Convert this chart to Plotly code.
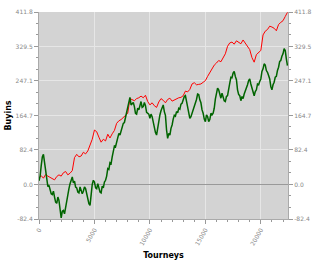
import plotly.graph_objects as go

# Buyins won over tourneys
red_step = 200
red_ev = [16, 21, 15, 24, 20, 17, 14, 11, 19, 23,
          20, 28, 31, 23, 27, 33, 64, 72, 66, 68,
          77, 73, 80, 92, 108, 130, 126, 113, 101, 108,
          104, 120, 111, 121, 129, 146, 152, 155, 160, 163,
          170, 205, 203, 200, 205, 207, 211, 207, 213, 198,
          190, 195, 188, 184, 197, 205, 201, 195, 203, 206,
          199, 202, 204, 207, 208, 212, 223, 221, 227, 240,
          243, 238, 239, 240, 244, 248, 258, 268, 276, 285,
          290, 296, 293, 304, 312, 330, 338, 340, 335, 343,
          339, 336, 345, 338, 331, 322, 303, 292, 310, 314,
          320, 357, 366, 370, 378, 376, 373, 367, 382, 387,
          391, 401, 411]

green_step = 100
green_won = [9, 20, 45, 66, 72, 50, 40, 12, -5, -2,
             -12, -22, -24, -16, -30, -42, -45, -30, -38, -62,
             -80, -64, -62, -70, -52, -44, -25, -10, 2, 14,
             18, 4, 8, -6, -8, -18, -20, -6, -12, -22,
             -16, -6, -10, -24, -30, -46, -50, -22, 0, 10,
             6, -8, -10, 2, -8, -18, -20, -4, -8, 6,
             10, 20, 38, 36, 52, 50, 66, 84, 92, 90,
             100, 116, 122, 118, 128, 142, 146, 148, 160, 178,
             185, 202, 208, 190, 192, 196, 186, 170, 168, 182,
             178, 192, 198, 184, 186, 196, 188, 172, 170, 168,
             158, 168, 162, 146, 140, 124, 118, 136, 145, 166,
             176, 182, 190, 174, 165, 130, 110, 122, 118, 134,
             142, 156, 165, 163, 174, 171, 182, 180, 192, 194,
             204, 210, 212, 196, 186, 168, 158, 162, 170, 174,
             185, 192, 203, 216, 215, 202, 195, 178, 170, 156,
             150, 166, 162, 150, 155, 170, 166, 170, 182, 204,
             215, 230, 226, 212, 206, 218, 210, 200, 198, 210,
             212, 232, 242, 256, 255, 266, 270, 258, 250, 226,
             215, 212, 200, 210, 205, 216, 222, 230, 238, 248,
             252, 240, 230, 220, 212, 222, 226, 240, 238, 246,
             252, 270, 276, 288, 285, 272, 268, 260, 252, 234,
             226, 238, 244, 256, 258, 272, 280, 294, 296, 306,
             312, 324, 320, 300, 284]

red_x = list(range(0, red_step * len(red_ev), red_step))
green_x = list(range(0, green_step * len(green_won), green_step))

y_ticks = [-82.4, 0.0, 82.4, 164.7, 247.1, 329.5, 411.8]
y_labels = ["-82.4", "0.0", "82.4", "164.7", "247.1", "329.5", "411.8"]
x_ticks = [0, 5000, 10000, 15000, 20000]
x_labels = ["0", "5000", "10000", "15000", "20000"]

fig = go.Figure()
fig.add_trace(go.Scatter(x=red_x, y=red_ev, mode="lines",
                         line=dict(color="#ff0000", width=1), showlegend=False))
fig.add_trace(go.Scatter(x=green_x, y=green_won, mode="lines",
                         line=dict(color="#006400", width=1.5), showlegend=False))
fig.add_trace(go.Scatter(x=red_x, y=red_ev, mode="lines", yaxis="y2",
                         line=dict(color="rgba(0,0,0,0)", width=0),
                         hoverinfo="skip", showlegend=False))

tickfont = dict(family="DejaVu Sans", size=6, color="#888888")
yax = dict(range=[-82.4, 411.8], tickvals=y_ticks, ticktext=y_labels,
           tickfont=tickfont, ticks="outside", ticklen=4, tickcolor="#999999",
           showline=True, linecolor="#aaaaaa", linewidth=1,
           minor=dict(tick0=-82.4, dtick=27.4667, ticks="outside", ticklen=2,
                      tickcolor="#999999", showgrid=False))
fig.update_layout(
    width=320, height=266,
    margin=dict(l=32, r=23, t=8, b=37),
    paper_bgcolor="white", plot_bgcolor="#d3d3d3",
    xaxis=dict(range=[0, 22450], tickvals=x_ticks, ticktext=x_labels,
               tickangle=-60, tickfont=tickfont, ticks="outside", ticklen=4,
               tickcolor="#999999", showline=True, linecolor="#aaaaaa",
               gridcolor="#e6e6e6", zeroline=False,
               minor=dict(dtick=1000, ticks="outside", ticklen=2,
                          tickcolor="#999999", showgrid=False),
               title=dict(text="<b>Tourneys</b>", standoff=6,
                          font=dict(family="DejaVu Sans", size=8, color="black"))),
    yaxis=dict(**yax, gridcolor="#e6e6e6", gridwidth=1,
               zeroline=True, zerolinecolor="#999999", zerolinewidth=1,
               title=dict(text="<b>Buyins</b>", standoff=2,
                          font=dict(family="DejaVu Sans", size=8, color="black"))),
    yaxis2=dict(**yax, overlaying="y", side="right", showgrid=False, zeroline=False),
)
fig.write_html("out.html")
